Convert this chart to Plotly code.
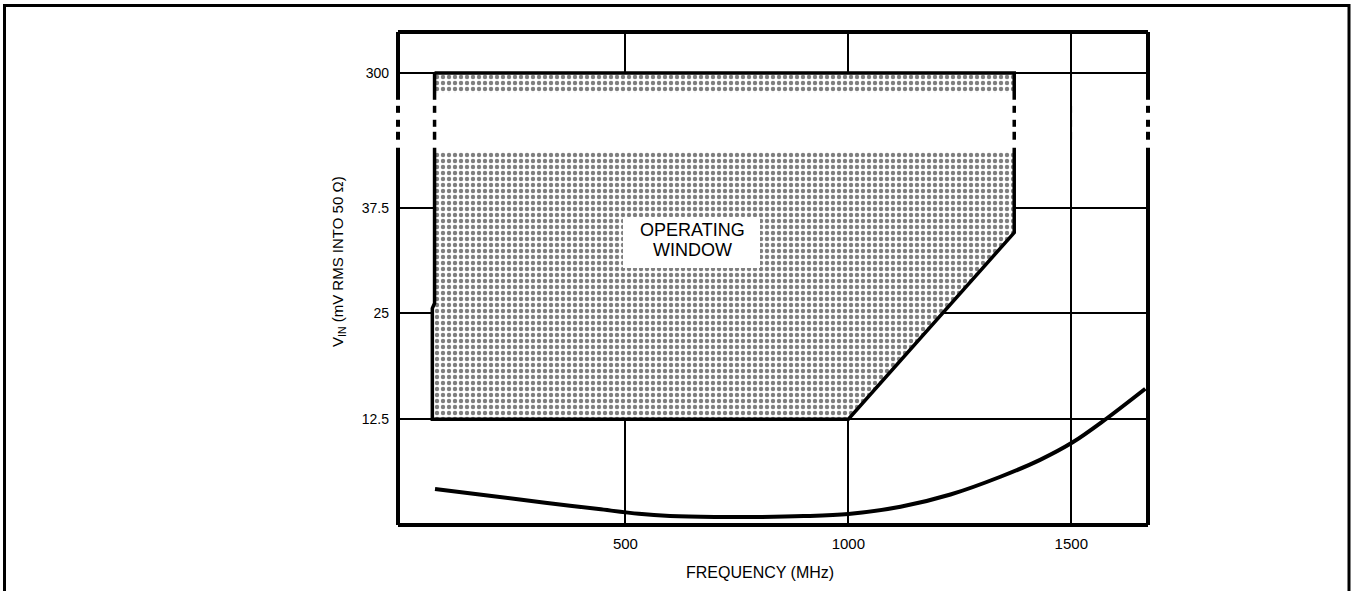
import numpy as np
import plotly.graph_objects as go

# ---------------- data ----------------
x_ticks = [500, 1000, 1500]
x_tick_labels = ["500", "1000", "1500"]
y_ticks = [12.5, 25, 37.5, 300]
y_tick_labels = ["12.5", "25", "37.5", "300"]

# operating window outline (frequency MHz, V_IN mV RMS)
win_freq = [72, 1372, 1372, 1000, 67, 67, 72, 72]
win_vin = [300, 300, 34.55, 12.5, 12.5, 25.6, 26.2, 300]

# minimum input curve (frequency MHz, V_IN mV RMS)
curve_freq = [73, 200, 320, 440, 530, 600, 700, 800, 900, 1000, 1117, 1229, 1341, 1430, 1504, 1572, 1666]
curve_vin = [4.25, 3.42, 2.64, 1.88, 1.32, 1.07, 0.95, 0.95, 1.05, 1.3, 2.15, 3.6, 5.7, 7.7, 9.8, 12.3, 16.1]

# ---------------- broken y scale ----------------
BREAK_FROM, TOP_VAL, TOP_POS = 37.5, 300.0, 53.4


def vin_to_axis(v):
    v = np.asarray(v, dtype=float)
    return np.where(v <= BREAK_FROM, v,
                    BREAK_FROM + (v - BREAK_FROM) * (TOP_POS - BREAK_FROM) / (TOP_VAL - BREAK_FROM))


X_RANGE = [-10, 1672]
Y_RANGE = [0, 58.25]
GAP_LO, GAP_HI = 44.58, 50.24          # axis break gap (axis units)
BAND_LO, BAND_HI = 44.1, 51.06         # white band inside the window
DASHES = [(45.52, 46.46), (47.05, 47.88), (48.7, 49.53)]

wy = vin_to_axis(win_vin)
wx = np.array(win_freq, dtype=float)

fig = go.Figure()

pattern = dict(shape=".", size=6, solidity=0.42, fgcolor="black", bgcolor="white")

# white base of the window (covers gridlines)
fig.add_trace(go.Scatter(x=wx, y=wy, mode="lines", fill="toself", fillcolor="white",
                         line=dict(width=0), hoverinfo="skip", showlegend=False))
# lower hatched part
fig.add_trace(go.Scatter(x=wx, y=np.minimum(wy, BAND_LO), mode="lines", fill="toself",
                         fillcolor="white", fillpattern=pattern, line=dict(width=0),
                         hoverinfo="skip", showlegend=False))
# upper hatched band
fig.add_trace(go.Scatter(x=wx, y=np.maximum(wy, BAND_HI), mode="lines", fill="toself",
                         fillcolor="white", fillpattern=pattern, line=dict(width=0),
                         hoverinfo="skip", showlegend=False))

# outline with gaps at the axis break
ox, oy = [], []
for i in range(len(wx) - 1):
    x0, y0, x1, y1 = wx[i], wy[i], wx[i + 1], wy[i + 1]
    if not ox:
        ox.append(x0); oy.append(y0)
    if x0 == x1 and min(y0, y1) < GAP_LO and max(y0, y1) > GAP_HI:
        a, b = (GAP_HI, GAP_LO) if y0 > y1 else (GAP_LO, GAP_HI)
        ox += [x0, None, x0]; oy += [a, None, b]
    ox.append(x1); oy.append(y1)
fig.add_trace(go.Scatter(x=ox, y=oy, mode="lines", line=dict(color="black", width=3.5),
                         connectgaps=False, hoverinfo="skip", showlegend=False))

# curve
fig.add_trace(go.Scatter(x=curve_freq, y=vin_to_axis(curve_vin), mode="lines",
                         line=dict(color="black", width=4, shape="spline", smoothing=0.9),
                         hoverinfo="skip", showlegend=False))

shapes = []
# white band across the plot at the axis break (hides the gridline there)
shapes.append(dict(type="rect", xref="paper", yref="y", x0=0, x1=1, y0=GAP_LO, y1=GAP_HI,
                   fillcolor="white", line=dict(width=0), layer="between"))

# dashes in the break: borders, window edges, 1500 gridline
dash_lines = [("paper", 0, 4), ("paper", 1, 4), ("x", wx[0], 3.5), ("x", wx[1], 3.5), ("x", 1500, 1.5)]
for xref, xv, w in dash_lines:
    for d0, d1 in DASHES:
        shapes.append(dict(type="line", xref=xref, yref="y", x0=xv, x1=xv, y0=d0, y1=d1,
                           line=dict(color="black", width=w), layer="above"))

# plot frame (broken on both sides)
BW = 4
shapes.append(dict(type="line", xref="paper", yref="paper", x0=0, x1=1, y0=1, y1=1,
                   line=dict(color="black", width=BW), layer="above"))
shapes.append(dict(type="line", xref="paper", yref="paper", x0=0, x1=1, y0=0, y1=0,
                   line=dict(color="black", width=BW), layer="above"))
for xv in (0, 1):
    shapes.append(dict(type="line", xref="paper", yref="y", x0=xv, x1=xv, y0=Y_RANGE[0], y1=GAP_LO,
                       line=dict(color="black", width=BW), layer="above"))
    shapes.append(dict(type="line", xref="paper", yref="y", x0=xv, x1=xv, y0=GAP_HI, y1=Y_RANGE[1],
                       line=dict(color="black", width=BW), layer="above"))

# outer frame around the whole figure
L, T, W, H = 398, 32, 750, 493
def px(xp): return (xp - L) / W
def py(yp): return (T + H - yp) / H
shapes.append(dict(type="rect", xref="paper", yref="paper", x0=px(4.5), x1=px(1349), y0=py(594), y1=py(5.5),
                   line=dict(color="black", width=3), fillcolor="rgba(0,0,0,0)", layer="above"))

# white label box of the operating window
shapes.append(dict(type="rect", xref="paper", yref="paper", x0=px(623), x1=px(760), y0=py(268), y1=py(217),
                   fillcolor="white", line=dict(width=0), layer="above"))

font = dict(family="Liberation Sans, Arial, sans-serif", color="black")
C = dict(xref="paper", yref="paper", showarrow=False, xanchor="center", yanchor="middle")

annotations = [
    dict(x=px(692), y=py(230), text="OPERATING", font=dict(size=18, **font), **C),
    dict(x=px(692), y=py(250), text="WINDOW", font=dict(size=18, **font), **C),
    dict(x=px(760), y=py(572), text="FREQUENCY (MHz)", font=dict(size=16, **font), **C),
    dict(x=px(338), y=py(262), text="V<sub>IN</sub> (mV RMS INTO 50 Ω)", textangle=-90,
         font=dict(size=15, **font), **C),
]

fig.update_layout(
    width=1356, height=591,
    margin=dict(l=L, r=1356 - L - W, t=T, b=591 - T - H, autoexpand=False),
    paper_bgcolor="white", plot_bgcolor="white",
    shapes=shapes, annotations=annotations, showlegend=False,
    xaxis=dict(range=X_RANGE, tickvals=x_ticks, ticktext=x_tick_labels, showgrid=True,
               gridcolor="black", gridwidth=1.5, zeroline=False, showline=False, ticks="",
               ticklabelstandoff=8, tickfont=dict(size=15, **font), fixedrange=True),
    yaxis=dict(range=Y_RANGE, tickvals=list(vin_to_axis(y_ticks)), ticktext=y_tick_labels,
               showgrid=True, gridcolor="black", gridwidth=1.5, zeroline=False, showline=False,
               ticks="", ticklabelstandoff=8, tickfont=dict(size=14, **font), fixedrange=True),
)

fig.write_html("out.html", config={"displayModeBar": False},
               post_script="document.body.style.margin='0px';document.body.style.overflow='hidden';")
